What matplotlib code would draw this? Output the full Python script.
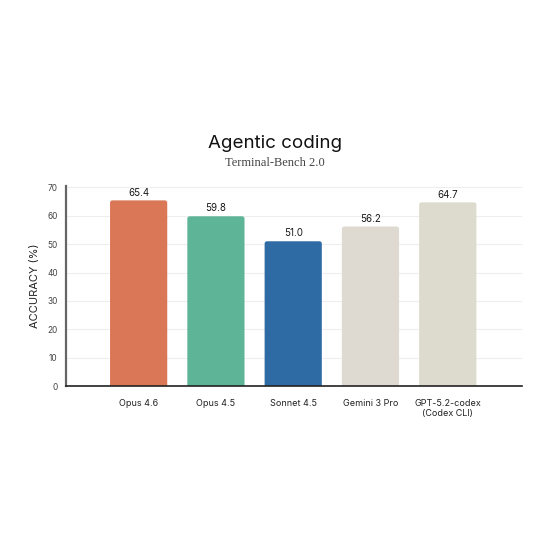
import numpy as np
import matplotlib
matplotlib.use('Agg')
import matplotlib.pyplot as plt
from matplotlib.patches import FancyBboxPatch

models = ['Opus 4.6', 'Opus 4.5', 'Sonnet 4.5', 'Gemini 3 Pro', 'GPT-5.2-codex\n(Codex CLI)']
scores = [65.4, 59.8, 51.0, 56.2, 64.7]
colors = ['#D97757', '#5DB496', '#2E6AA3', '#DED9D1', '#DCDBCE']
yticks = [0, 10, 20, 30, 40, 50, 60, 70]

plt.rcParams['font.family'] = ['Inter', 'DejaVu Sans']

fig = plt.figure(figsize=(5.5, 5.5), dpi=100)
ax = fig.add_axes([0.12, 0.298, 0.829, 0.364])

x = np.arange(len(models))
width = 0.74
bars = ax.bar(x, scores, width=width, color=colors, zorder=3)
# swap plain bars for ones with slightly rounded tops
for b in bars:
    b.set_visible(False)
    p = FancyBboxPatch((b.get_x(), -3), b.get_width(), b.get_height() + 3,
                       boxstyle='round,pad=0,rounding_size=0.03', mutation_aspect=28,
                       facecolor=b.get_facecolor(), edgecolor='none', zorder=3)
    ax.add_patch(p)
for xi, v in zip(x, scores):
    ax.text(xi, v + 1.0, '%.1f' % v, ha='center', va='bottom', fontsize=7,
            color='#1a1a1a')

ax.set_xlim(-0.94, 4.96)
ax.set_ylim(0, 70.5)
ax.set_yticks(yticks)
ax.set_xticks(x)
ax.set_xticklabels(models, fontsize=6.5, color='#222222')
ax.tick_params(axis='y', labelsize=6, colors='#444444', length=0, pad=6)
ax.tick_params(axis='x', length=0, pad=9)
ax.grid(axis='y', color='#EEEEEE', linewidth=0.8, zorder=0)
ax.set_ylabel('ACCURACY (%)', fontsize=8, color='#222222', labelpad=5)

for s in ['top', 'right']:
    ax.spines[s].set_visible(False)
ax.spines['left'].set_color('#666666')
ax.spines['left'].set_linewidth(1.6)
ax.spines['bottom'].set_color('#222222')
ax.spines['bottom'].set_linewidth(1.2)
ax.spines['bottom'].set_zorder(4)

fig.text(0.5, 0.74, 'Agentic coding', ha='center', va='center', fontsize=13.5,
         color='#111111')
fig.text(0.5, 0.704, 'Terminal-Bench 2.0', ha='center', va='center', fontsize=9,
         color='#444444', family=['Liberation Serif', 'DejaVu Serif'])

fig.savefig('out.png', dpi=100, facecolor='white')
